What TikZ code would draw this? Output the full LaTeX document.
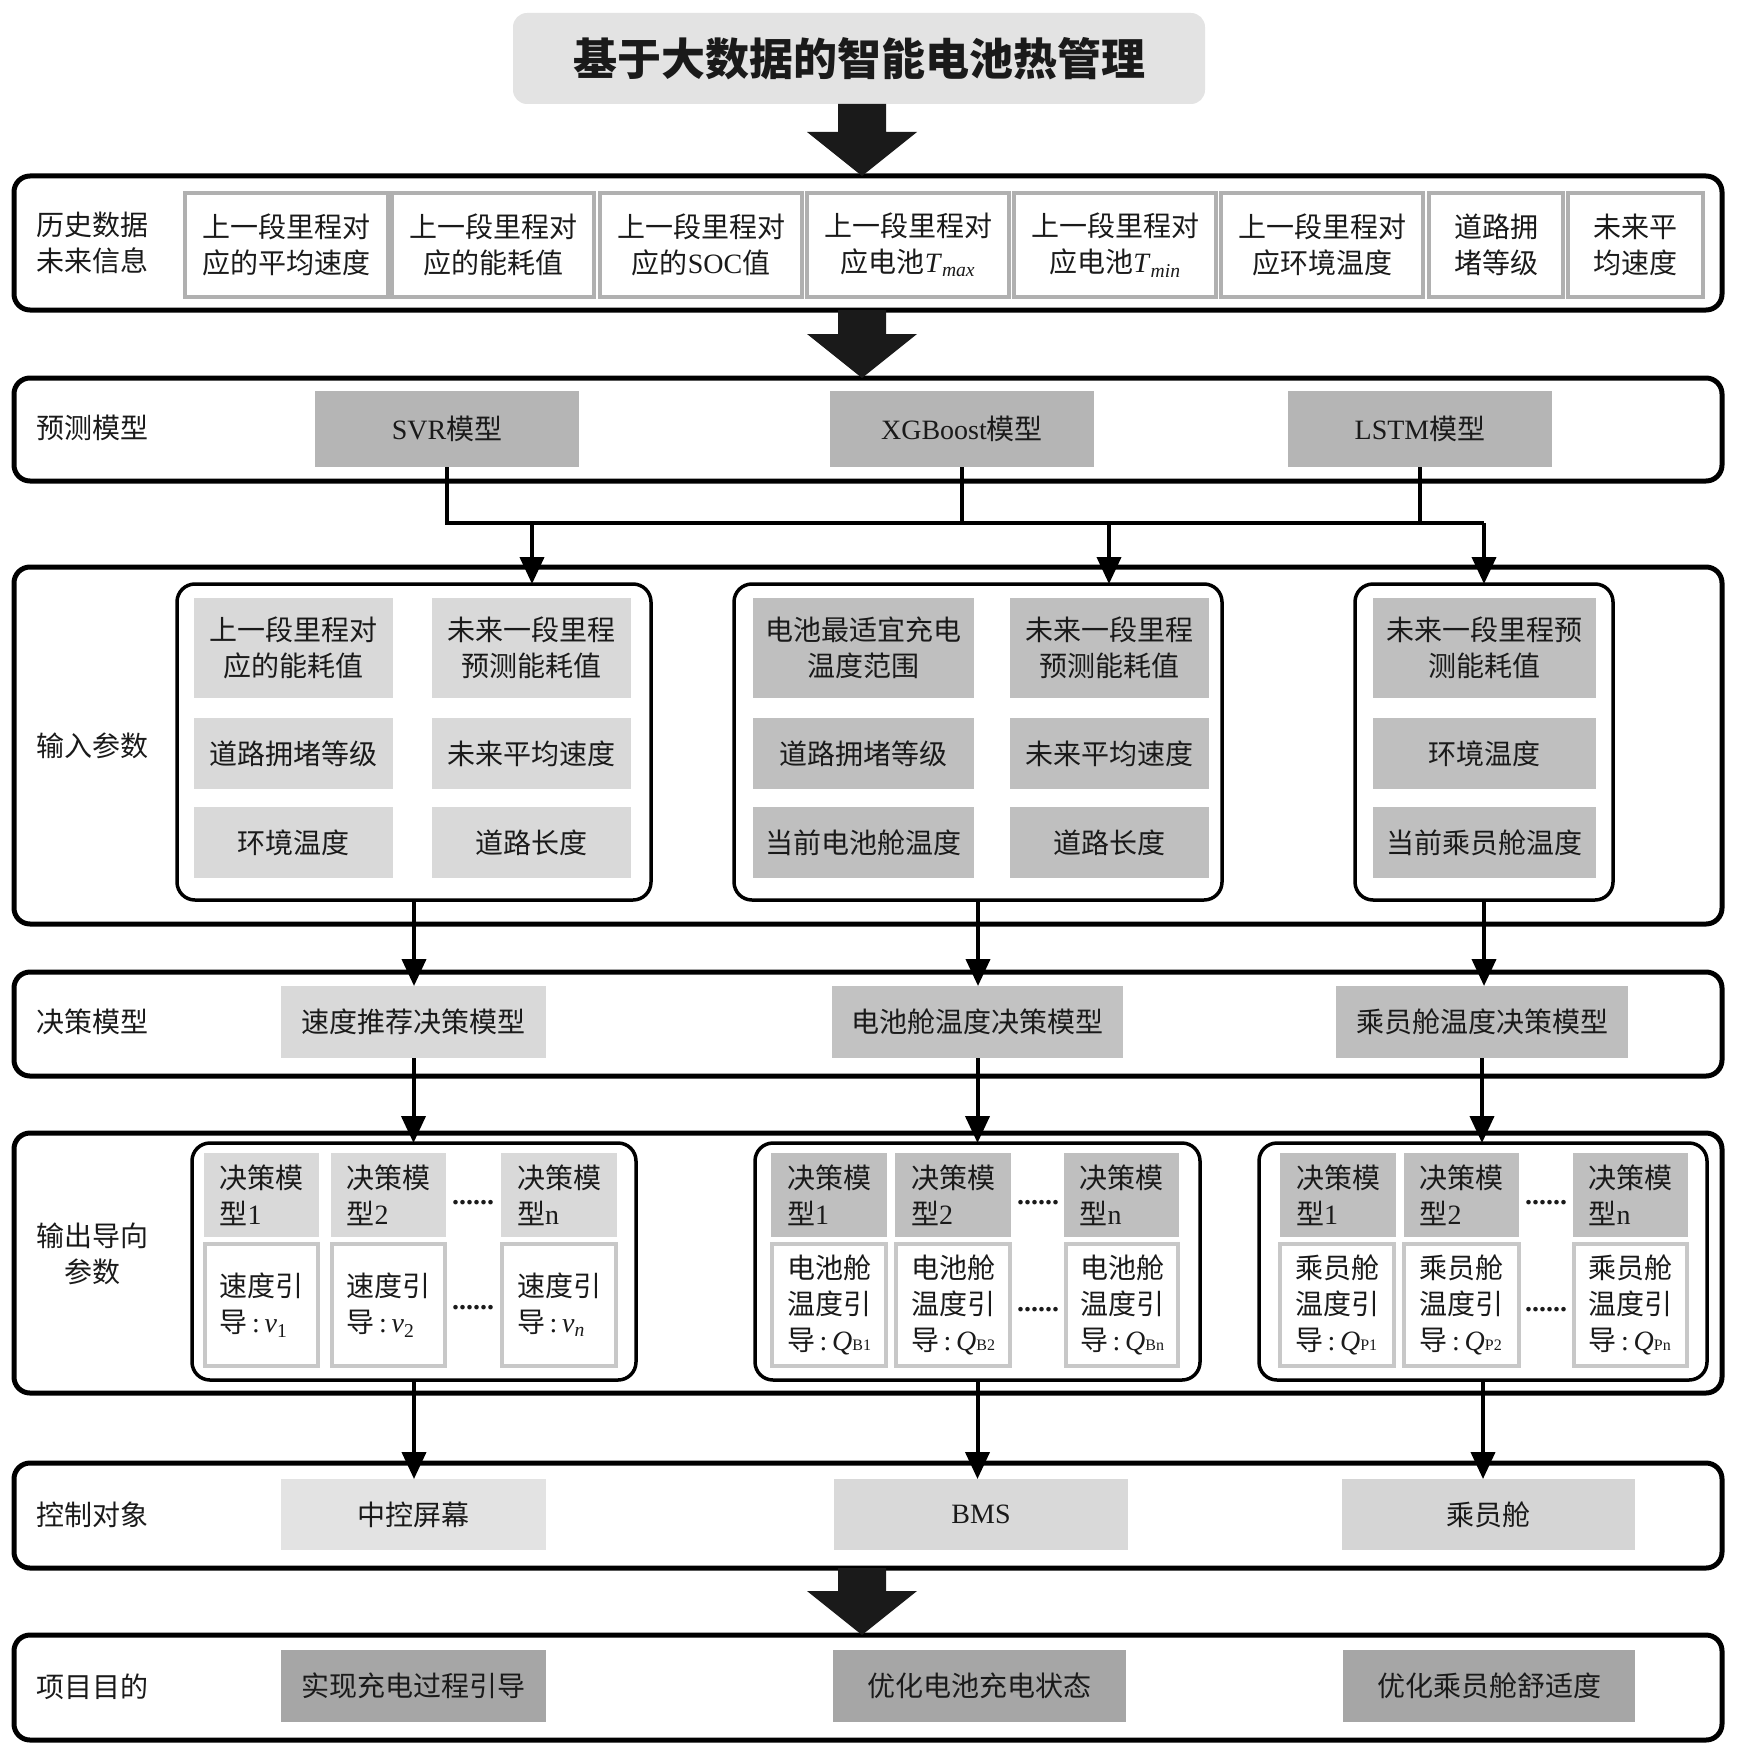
\documentclass[tikz,border=0pt]{standalone}
\usepackage{fontspec}
\setmainfont{Liberation Serif}
\newfontfamily\cjk{Noto Sans CJK SC}
\newfontfamily\lat{Liberation Serif}
\usetikzlibrary{arrows.meta,calc}

\definecolor{titlegray}{HTML}{E3E3E3}
\definecolor{modgray}{HTML}{B5B5B5}
\definecolor{lgray}{HTML}{D9D9D9}
\definecolor{mgray}{HTML}{BFBFBF}
\definecolor{dgray}{HTML}{A6A6A6}
\definecolor{cellborder}{HTML}{B0B0B0}
\definecolor{wborder}{HTML}{C8C8C8}
\definecolor{ink}{HTML}{1A1A1A}

\tikzset{
  base/.style={inner sep=0pt, outer sep=0pt, text=ink, font=\cjk\fontsize{28}{36}\selectfont, align=center},
  frame/.style={draw=black, line width=5pt, rounded corners=16pt},
  group/.style={draw=black, line width=3.5pt, rounded corners=18pt},
  titlebox/.style={fill=titlegray, rounded corners=14pt},
  hcell/.style={draw=cellborder, line width=4pt, fill=white},
  model/.style={fill=modgray},
  lcell/.style={fill=lgray},
  mcell/.style={fill=mgray},
  wcell/.style={draw=wborder, line width=4pt, fill=white, align=left},
  lbl/.style={align=center},
  conn/.style={draw=black, line width=4pt},
  arr/.style={conn, -{Triangle[width=24pt,length=27pt]}},
  bigc/.style={fill=ink},
  dotsn/.style={font=\lat\bfseries\fontsize{28}{36}\selectfont}
}

% style, name, x1, y1, x2, y2, text
\newcommand\bx[7]{\node[base,#1,minimum width={(#5)-(#3)},minimum height={(#6)-(#4)}] (#2) at ({((#3)+(#5))/2},{((#4)+(#6))/2}) {#7};}
\newcommand\bigarr[2]{%
  \fill[bigc] ($(#1 -| bx)+(-24,0)$) -- ($(#2 -| bx)+(-24,-44)$) -- ($(#2 -| bx)+(-55,-44)$) -- (#2 -| bx) -- ($(#2 -| bx)+(55,-44)$) -- ($(#2 -| bx)+(24,-44)$) -- ($(#1 -| bx)+(24,0)$) -- cycle;}
\newcommand\iv[2]{{\lat\textit{#1}\textsubscript{#2}}}
\newcommand\qs[2]{{\lat\textit{#1}{\fontsize{16}{16}\selectfont #2}}}

\begin{document}
\begin{tikzpicture}[x=1pt,y=-1pt]
\useasboundingbox (0,0) rectangle (1739,1755);
\coordinate (bx) at (862,0);

% title
\bx{titlebox}{title}{513}{13}{1205}{104}{\fontsize{44}{50}\selectfont\bfseries 基于大数据的智能电池热管理}

% frames
\bx{frame}{r1}{14}{176}{1722}{310}{}
\bx{frame}{r2}{14}{378}{1722}{481}{}
\bx{frame}{r3}{14}{567}{1722}{924}{}
\bx{frame}{r4}{14}{972}{1722}{1076}{}
\bx{frame}{r5}{14}{1133}{1722}{1393}{}
\bx{frame}{r6}{14}{1463}{1722}{1568}{}
\bx{frame}{r7}{14}{1635}{1722}{1740}{}

% left labels
\node[base,lbl] (l1) at (92,243) {历史数据\\未来信息};
\node[base,lbl] (l2) at (92,428) {预测模型};
\node[base,lbl] (l3) at (92,746) {输入参数};
\node[base,lbl] (l4) at (92,1022) {决策模型};
\node[base,lbl] (l5) at (92,1254) {输出导向\\参数};
\node[base,lbl] (l6) at (92,1515) {控制对象};
\node[base,lbl] (l7) at (92,1687) {项目目的};

% row 1 cells
\bx{hcell}{h1}{185}{193}{388}{297}{上一段里程对\\应的平均速度}
\bx{hcell}{h2}{392}{193}{594}{297}{上一段里程对\\应的能耗值}
\bx{hcell}{h3}{600}{193}{802}{297}{上一段里程对\\应的{\lat SOC}值}
\bx{hcell}{h4}{807}{193}{1009}{297}{上一段里程对\\应电池\iv{T}{\textit{max}}}
\bx{hcell}{h5}{1014}{193}{1216}{297}{上一段里程对\\应电池\iv{T}{\textit{min}}}
\bx{hcell}{h6}{1221}{193}{1423}{297}{上一段里程对\\应环境温度}
\bx{hcell}{h7}{1429}{193}{1563}{297}{道路拥\\堵等级}
\bx{hcell}{h8}{1568}{193}{1703}{297}{未来平\\均速度}

% row 2 models
\bx{model}{svr}{315}{391}{579}{467}{{\lat SVR}模型}
\bx{model}{xgb}{830}{391}{1094}{467}{{\lat XGBoost}模型}
\bx{model}{lstm}{1288}{391}{1552}{467}{{\lat LSTM}模型}

% row 3 groups
\bx{group}{g1}{177}{584}{651}{900}{}
\bx{group}{g2}{734}{584}{1222}{900}{}
\bx{group}{g3}{1355}{584}{1613}{900}{}

\bx{lcell}{a11}{194}{598}{393}{698}{上一段里程对\\应的能耗值}
\bx{lcell}{a12}{432}{598}{631}{698}{未来一段里程\\预测能耗值}
\bx{lcell}{a21}{194}{718}{393}{789}{道路拥堵等级}
\bx{lcell}{a22}{432}{718}{631}{789}{未来平均速度}
\bx{lcell}{a31}{194}{807}{393}{878}{环境温度}
\bx{lcell}{a32}{432}{807}{631}{878}{道路长度}

\bx{mcell}{b11}{753}{598}{974}{698}{电池最适宜充电\\温度范围}
\bx{mcell}{b12}{1010}{598}{1209}{698}{未来一段里程\\预测能耗值}
\bx{mcell}{b21}{753}{718}{974}{789}{道路拥堵等级}
\bx{mcell}{b22}{1010}{718}{1209}{789}{未来平均速度}
\bx{mcell}{b31}{753}{807}{974}{878}{当前电池舱温度}
\bx{mcell}{b32}{1010}{807}{1209}{878}{道路长度}

\bx{mcell}{c11}{1373}{598}{1596}{698}{未来一段里程预\\测能耗值}
\bx{mcell}{c21}{1373}{718}{1596}{789}{环境温度}
\bx{mcell}{c31}{1373}{807}{1596}{878}{当前乘员舱温度}

% row 4 decision models
\bx{fill=lgray}{m1}{281}{986}{546}{1058}{速度推荐决策模型}
\bx{fill=mgray!90!lgray}{m2}{832}{986}{1123}{1058}{电池舱温度决策模型}
\bx{fill=mgray!95!modgray}{m3}{1336}{986}{1628}{1058}{乘员舱温度决策模型}

% row 5 groups
\bx{group}{o1}{192}{1143}{636}{1380}{}
\bx{group}{o2}{755}{1143}{1200}{1380}{}
\bx{group}{o3}{1259}{1143}{1707}{1380}{}

\bx{lcell,align=left}{p11}{204}{1153}{319}{1237}{决策模\\型{\lat 1}}
\bx{lcell,align=left}{p12}{331}{1153}{446}{1237}{决策模\\型{\lat 2}}
\bx{lcell,align=left}{p13}{501}{1153}{617}{1237}{决策模\\型{\lat n}}
\bx{wcell}{q11}{205}{1244}{318}{1366}{速度引\\导{\lat\,:\,}\iv{v}{1}}
\bx{wcell}{q12}{332}{1244}{445}{1366}{速度引\\导{\lat\,:\,}\iv{v}{2}}
\bx{wcell}{q13}{502}{1244}{616}{1366}{速度引\\导{\lat\,:\,}\iv{v}{\textit{n}}}
\node[base,dotsn] (d11) at (473,1203) {......};
\node[base,dotsn] (d12) at (473,1308) {......};

\bx{mcell,align=left}{p21}{771}{1153}{887}{1237}{决策模\\型{\lat 1}}
\bx{mcell,align=left}{p22}{895}{1153}{1011}{1237}{决策模\\型{\lat 2}}
\bx{mcell,align=left}{p23}{1064}{1153}{1179}{1237}{决策模\\型{\lat n}}
\bx{wcell}{q21}{772}{1244}{886}{1366}{电池舱\\温度引\\导{\lat\,:\,}\qs{Q}{B1}}
\bx{wcell}{q22}{896}{1244}{1010}{1366}{电池舱\\温度引\\导{\lat\,:\,}\qs{Q}{B2}}
\bx{wcell}{q23}{1066}{1244}{1178}{1366}{电池舱\\温度引\\导{\lat\,:\,}\qs{Q}{Bn}}
\node[base,dotsn] (d21) at (1038,1203) {......};
\node[base,dotsn] (d22) at (1038,1310) {......};

\bx{mcell,align=left}{p31}{1280}{1153}{1396}{1237}{决策模\\型{\lat 1}}
\bx{mcell,align=left}{p32}{1404}{1153}{1519}{1237}{决策模\\型{\lat 2}}
\bx{mcell,align=left}{p33}{1573}{1153}{1688}{1237}{决策模\\型{\lat n}}
\bx{wcell}{q31}{1280}{1244}{1394}{1366}{乘员舱\\温度引\\导{\lat\,:\,}\qs{Q}{P1}}
\bx{wcell}{q32}{1404}{1244}{1519}{1366}{乘员舱\\温度引\\导{\lat\,:\,}\qs{Q}{P2}}
\bx{wcell}{q33}{1574}{1244}{1687}{1366}{乘员舱\\温度引\\导{\lat\,:\,}\qs{Q}{Pn}}
\node[base,dotsn] (d31) at (1546,1203) {......};
\node[base,dotsn] (d32) at (1546,1310) {......};

% row 6 control objects
\bx{fill=titlegray}{k1}{281}{1479}{546}{1550}{中控屏幕}
\bx{fill=lgray}{k2}{834}{1479}{1128}{1550}{{\lat BMS}}
\bx{fill=lgray!85!mgray}{k3}{1342}{1479}{1635}{1550}{乘员舱}

% row 7 goals
\bx{fill=dgray}{t1}{281}{1650}{546}{1722}{实现充电过程引导}
\bx{fill=dgray}{t2}{833}{1650}{1126}{1722}{优化电池充电状态}
\bx{fill=dgray}{t3}{1343}{1650}{1635}{1722}{优化乘员舱舒适度}

% big arrows
\bigarr{title.south}{r1.north}
\bigarr{r1.south}{r2.north}
\bigarr{r6.south}{r7.north}

% model bus
\coordinate (busR) at (1484,523);
\coordinate (dA) at (532,523);
\coordinate (dB) at (1109,523);
\draw[conn] (svr.south) |- (busR);
\draw[conn] (xgb.south) -- (xgb.south |- busR);
\draw[conn] (lstm.south) -- (lstm.south |- busR);
\draw[arr] (dA) -- (dA |- g1.north);
\draw[arr] (dB) -- (dB |- g2.north);
\draw[arr] (busR) -- (busR |- g3.north);

% vertical flows
\draw[arr] (g1.south) -- (g1.south |- m1.north);
\draw[arr] (g2.south) -- (g2.south |- m2.north);
\draw[arr] (g3.south) -- (g3.south |- m3.north);
\draw[arr] (m1.south) -- (m1.south |- o1.north);
\draw[arr] (m2.south) -- (m2.south |- o2.north);
\draw[arr] (m3.south) -- (m3.south |- o3.north);
\draw[arr] (o1.south) -- (o1.south |- k1.north);
\draw[arr] (o2.south) -- (o2.south |- k2.north);
\draw[arr] (o3.south) -- (o3.south |- k3.north);
\end{tikzpicture}
\end{document}
